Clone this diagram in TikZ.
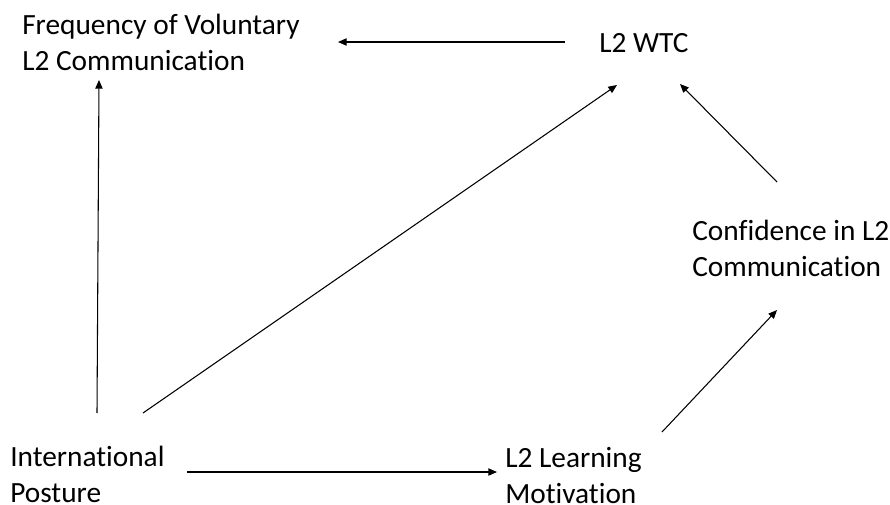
\documentclass[tikz,border=0pt]{standalone}
\usepackage{fontspec}
\setmainfont{Carlito}[Ligatures=NoCommon]
\usetikzlibrary{arrows.meta}

\tikzset{
  lbl/.style={anchor=north west,inner sep=0pt,align=left,
    font=\fontsize{22}{27}\selectfont},
  arr/.style={line width=0.8pt,-{Triangle[length=6.5pt,width=5.5pt]}}
}

\begin{document}
\begin{tikzpicture}[x=0.75pt,y=-0.75pt]
    \useasboundingbox (0,0) rectangle (890,504);

    % variables
    \node[lbl] (freq)  at (22,13.5)  {Frequency of Voluntary\\L2 Communication};
    \node[lbl] (wtc)   at (599,33)   {L2 WTC};
    \node[lbl] (conf)  at (692,219.5) {Confidence in L2\\Communication};
    \node[lbl] (post)  at (10,445.5) {International\\Posture};
    \node[lbl] (learn) at (505,447)  {L2 Learning\\Motivation};

    % paths
    \draw[arr] ([shift={(-34,9)}]wtc.north west) -- ([shift={(316,28.5)}]freq.north west);
    \draw[arr] ([shift={(87,-32.5)}]post.north west) -- ([shift={(77,66.5)}]freq.north west);
    \draw[arr] ([shift={(133,-32.5)}]post.north west) -- ([shift={(18,52)}]wtc.north west);
    \draw[arr] ([shift={(85,-37.5)}]conf.north west) -- ([shift={(81,51)}]wtc.north west);
    \draw[arr] ([shift={(157,-15)}]learn.north west) -- ([shift={(85,90.5)}]conf.north west);
    \draw[arr] ([shift={(177,26.5)}]post.north west) -- ([shift={(-8,25)}]learn.north west);
\end{tikzpicture}
\end{document}
